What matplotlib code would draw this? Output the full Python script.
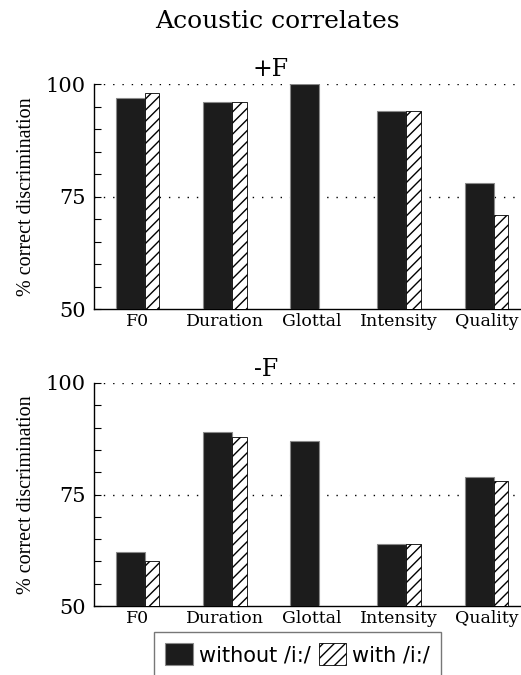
import matplotlib
matplotlib.use("Agg")
import matplotlib.pyplot as plt
import numpy as np
from matplotlib.patches import Patch

categories = ["F0", "Duration", "Glottal", "Intensity", "Quality"]

# +F panel
plus_without = [97, 96, 100, 94, 78]
plus_with = [98, 96, None, 94, 71]

# -F panel
minus_without = [62, 89, 87, 64, 79]
minus_with = [60, 88, None, 64, 78]

SERIF = "DejaVu Serif"


def draw_panel(ax, without, with_i):
    x = np.arange(1, len(categories) + 1)
    w1 = 1 / 3
    w2 = 1 / 6
    ax.bar(x - 0.25, without, width=w1, align="edge",
           color="#1c1c1c", edgecolor="#8a8a8a", linewidth=0.8, zorder=3)
    xs = [xi for xi, v in zip(x, with_i) if v is not None]
    vs = [v for v in with_i if v is not None]
    ax.bar(np.array(xs) - 0.25 + w1, vs, width=w2, align="edge",
           color="white", edgecolor="black", hatch="///", linewidth=0.6, zorder=3)

    ax.set_ylim(50, 100)
    ax.set_xlim(0.5, 5.5)
    ax.set_yticks([50, 75, 100])
    ax.set_yticks(np.arange(50, 101, 5), minor=True)
    ax.set_yticklabels(["50", "75", "100"], fontfamily=SERIF, fontsize=15)
    ax.set_xticks(x)
    ax.set_xticklabels(categories, fontfamily=SERIF, fontsize=12.5)
    ax.tick_params(axis="x", length=0, pad=3)
    ax.tick_params(axis="y", which="both", direction="in", length=5, pad=6, width=0.8)
    for yv in (75, 100):
        ax.axhline(yv, color="black", linestyle=(0, (1, 5.7)), linewidth=1.0, zorder=1)
    ax.spines["top"].set_visible(False)
    ax.spines["right"].set_visible(False)
    ax.spines["left"].set_linewidth(1.0)
    ax.spines["bottom"].set_linewidth(1.0)
    ax.set_ylabel("% correct discrimination", fontfamily="Liberation Serif",
                  fontsize=14.5, labelpad=7)


fig = plt.figure(figsize=(5.21, 6.75), dpi=100)
ax1 = fig.add_axes([94 / 521, 1 - 309 / 675, 436 / 521, 225 / 675])
ax2 = fig.add_axes([94 / 521, 1 - 606 / 675, 436 / 521, 223 / 675])

draw_panel(ax1, plus_without, plus_with)
draw_panel(ax2, minus_without, minus_with)

fig.text(277 / 521, 1 - 22 / 675, "Acoustic correlates", fontfamily=SERIF,
         fontsize=18, ha="center", va="center")
fig.text(271 / 521, 1 - 70 / 675, "+F", fontfamily=SERIF, fontsize=17,
         ha="center", va="center")
fig.text(266 / 521, 1 - 369 / 675, "-F", fontfamily=SERIF, fontsize=17,
         ha="center", va="center")

handles = [
    Patch(facecolor="#1c1c1c", edgecolor="#8a8a8a", linewidth=0.8),
    Patch(facecolor="white", edgecolor="black", hatch="///", linewidth=0.6),
]
leg = fig.legend(handles, ["without /i:/", "with /i:/"], loc="upper left",
                 bbox_to_anchor=(154 / 521, 1 - 632 / 675), ncol=2,
                 fontsize=15, frameon=True, fancybox=False, edgecolor="#555555",
                 handlelength=1.3, handleheight=1.2, handletextpad=0.3,
                 columnspacing=0.4, borderpad=0.55, borderaxespad=0)
leg.get_frame().set_linewidth(1.0)

fig.savefig("out.png", dpi=100)
